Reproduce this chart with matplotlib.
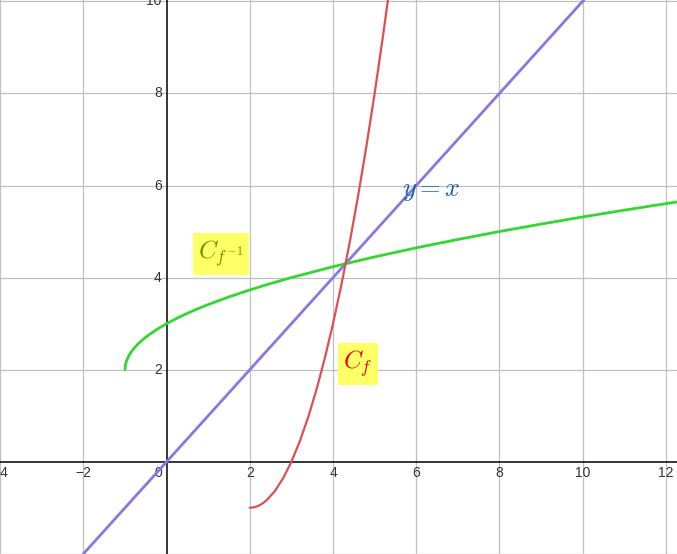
import matplotlib
matplotlib.use("Agg")
import matplotlib.pyplot as plt

plt.rcParams['mathtext.fontset'] = 'cm'

# Curve C_f : values
f_x = [2.0, 2.1, 2.2, 2.3, 2.4, 2.6, 2.8, 3.0, 3.2, 3.4, 3.6, 3.8, 4.0, 4.2, 4.4, 4.6, 4.8, 5.0, 5.2, 5.4]
f_y = [-1.0, -0.99, -0.96, -0.91, -0.84, -0.64, -0.36, 0.0, 0.44, 0.96, 1.56, 2.24, 3.0, 3.84, 4.76, 5.76, 6.84, 8.0, 9.24, 10.56]

# Curve C_{f^-1}
g_x = [-1.0, -0.995, -0.98, -0.96, -0.93, -0.9, -0.85, -0.8, -0.7, -0.6, -0.5, -0.4, -0.2, 0.0, 0.25, 0.5, 0.75,
       1.0, 1.5, 2.0, 2.5, 3.0, 4.0, 5.0, 6.0, 7.0, 8.0, 9.0, 10.0, 11.0, 12.0, 12.5]
g_y = [2.0, 2.071, 2.141, 2.2, 2.265, 2.316, 2.387, 2.447, 2.548, 2.632, 2.707, 2.775, 2.894, 3.0, 3.118, 3.225, 3.323,
       3.414, 3.581, 3.732, 3.871, 4.0, 4.236, 4.449, 4.646, 4.828, 5.0, 5.162, 5.317, 5.464, 5.606, 5.674]

# Line y = x
line_x = [-4.0, 12.5]
line_y = [-4.0, 12.5]

x_ticks = [-4, -2, 0, 2, 4, 6, 8, 10, 12]
x_tick_labels = ['\u22124', '\u22122', '0', '2', '4', '6', '8', '10', '12']
y_ticks = [2, 4, 6, 8, 10]
y_tick_labels = ['2', '4', '6', '8', '10']
grid_x = [-4, -2, 2, 4, 6, 8, 10, 12]
grid_y = [-2, 2, 4, 6, 8, 10]

fig = plt.figure(figsize=(6.77, 5.54), dpi=100)
ax = fig.add_axes([0, 0, 1, 1])
ax.set_xlim(-4.007, 12.27)
ax.set_ylim(-2.005, 10.03)
for s in ax.spines.values():
    s.set_visible(False)
ax.set_xticks([])
ax.set_yticks([])

for gx in grid_x:
    ax.axvline(gx, color='#c0c0c0', lw=0.9, zorder=0)
for gy in grid_y:
    ax.axhline(gy, color='#c0c0c0', lw=0.9, zorder=0)
ax.axhline(0, color='black', lw=1.1, zorder=1)
ax.axvline(0, color='black', lw=1.1, zorder=1)

tick_font = dict(fontsize=10, color='#333333', family='Liberation Sans')
for t, lab in zip(x_ticks, x_tick_labels):
    if t == 0:
        ax.annotate(lab, (t, 0), xytext=(-8, -11), textcoords='offset pixels',
                    ha='center', va='center', **tick_font)
    else:
        ax.annotate(lab, (t, 0), xytext=(0, -11), textcoords='offset pixels',
                    ha='center', va='center', **tick_font)
for t, lab in zip(y_ticks, y_tick_labels):
    ax.annotate(lab, (0, t), xytext=(-5, 0), textcoords='offset pixels',
                ha='right', va='center', **tick_font)

ax.plot(line_x, line_y, color='#8a78e0', lw=2, zorder=3, solid_capstyle='round')
ax.plot(g_x, g_y, color='#33d633', lw=2, zorder=3, solid_capstyle='round')
ax.plot(f_x, f_y, color='#dc5050', lw=1.6, zorder=3, solid_capstyle='round')

ax.text(1.3, 4.51, r'$C_{f^{-1}}$', fontsize=18, color='#6a9400', ha='center', va='center', zorder=4,
        bbox=dict(boxstyle='square,pad=0.22', fc='#ffff66', ec='none'))
ax.text(4.6, 2.13, r'$C_f$', fontsize=18, color='#ee0000', ha='center', va='center', zorder=4,
        bbox=dict(boxstyle='square,pad=0.22', fc='#ffff66', ec='none'))
ax.text(6.37, 5.9, r'$y = x$', fontsize=19, color='#1565a8', ha='center', va='center', zorder=4)

fig.savefig('out.png', dpi=100)
